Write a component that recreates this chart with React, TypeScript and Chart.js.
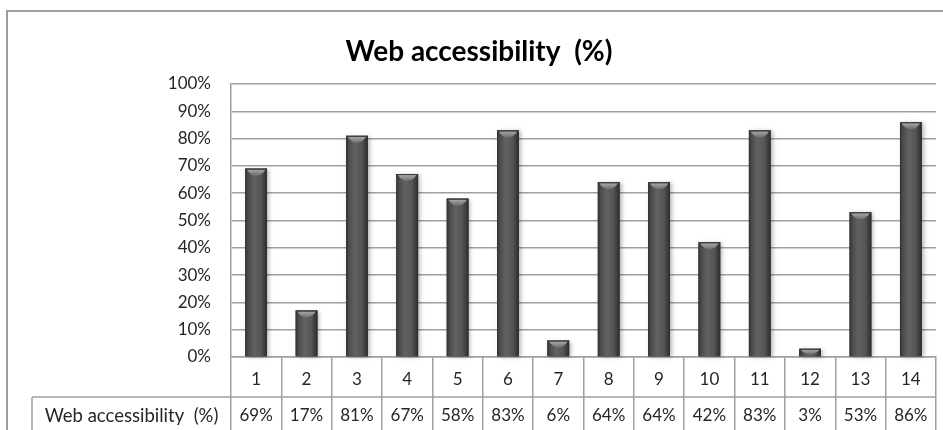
import React, { useEffect, useRef } from "react";
import { Chart, registerables } from "chart.js";

Chart.register(...registerables);

// Survey results per site
const categories = ["1", "2", "3", "4", "5", "6", "7", "8", "9", "10", "11", "12", "13", "14"];
const accessibility = [69, 17, 81, 67, 58, 83, 6, 64, 64, 42, 83, 3, 53, 86];
const seriesName = "Web accessibility  (%)";
const chartTitle = "Web accessibility  (%)";
const yMin = 0;
const yMax = 100;
const yStep = 10;

const FONT = "Lato, 'Open Sans', sans-serif";
const TEXT = "#262626";
const LINE = "#a0a0a0";
const ROW_H = 40;
const HEADER_W = 199;

const fmtPct = (v: number) => `${v}%`;

// Cylinder-like shading on each bar, with a lighter cap at the top
const barShading = {
  id: "barShading",
  afterDatasetsDraw(chart: any) {
    const ctx = chart.ctx;
    const meta = chart.getDatasetMeta(0);
    ctx.save();
    meta.data.forEach((el: any) => {
      const { x, y, base, width } = el.getProps(["x", "y", "base", "width"], true);
      const l = x - width / 2;
      const r = x + width / 2;
      const h = base - y;

      ctx.save();
      ctx.shadowColor = "rgba(0,0,0,0.28)";
      ctx.shadowBlur = 4;
      ctx.shadowOffsetX = 2;
      ctx.shadowOffsetY = 1;
      ctx.fillStyle = "#444";
      ctx.fillRect(l, y, width, h);
      ctx.restore();

      const g = ctx.createLinearGradient(l, 0, r, 0);
      g.addColorStop(0, "#2f2f2f");
      g.addColorStop(0.12, "#4a4a4a");
      g.addColorStop(0.4, "#626262");
      g.addColorStop(0.72, "#555555");
      g.addColorStop(1, "#2c2c2c");
      ctx.fillStyle = g;
      ctx.fillRect(l, y, width, h);

      const capH = Math.min(7, h * 0.75);
      const cg = ctx.createLinearGradient(0, y, 0, y + capH);
      cg.addColorStop(0, "#b0b0b0");
      cg.addColorStop(1, "#6e6e6e");
      ctx.fillStyle = cg;
      ctx.beginPath();
      ctx.moveTo(l + 1.5, y + 1);
      ctx.lineTo(r - 1.5, y + 1);
      ctx.quadraticCurveTo(r - width * 0.25, y + capH, x, y + capH);
      ctx.quadraticCurveTo(l + width * 0.25, y + capH, l + 1.5, y + 1);
      ctx.closePath();
      ctx.fill();

      ctx.strokeStyle = "#3a3a3a";
      ctx.lineWidth = 1;
      ctx.beginPath();
      ctx.moveTo(l, y + 0.5);
      ctx.lineTo(r, y + 0.5);
      ctx.stroke();
    });
    ctx.restore();
  },
};

// Chart frame and the data table under the category axis
const frameAndTable = {
  id: "frameAndTable",
  beforeDraw(chart: any) {
    const ctx = chart.ctx;
    ctx.save();
    ctx.fillStyle = "#ffffff";
    ctx.fillRect(0, 0, chart.width, chart.height);
    ctx.strokeStyle = "#9c9c9c";
    ctx.lineWidth = 2;
    ctx.beginPath();
    ctx.moveTo(7, chart.height);
    ctx.lineTo(7, 11);
    ctx.lineTo(chart.width, 11);
    ctx.stroke();
    ctx.restore();
  },
  afterDraw(chart: any) {
    const ctx = chart.ctx;
    const area = chart.chartArea;
    const xs = chart.scales.x;
    const row2Top = area.bottom + ROW_H;
    const headerLeft = area.left - HEADER_W;
    ctx.save();
    ctx.strokeStyle = LINE;
    ctx.lineWidth = 1.5;
    ctx.beginPath();
    ctx.moveTo(headerLeft, row2Top);
    ctx.lineTo(area.right, row2Top);
    ctx.moveTo(headerLeft, row2Top);
    ctx.lineTo(headerLeft, chart.height);
    ctx.stroke();

    ctx.fillStyle = TEXT;
    ctx.textBaseline = "middle";
    ctx.textAlign = "center";
    const cy = row2Top + 19;
    ctx.font = `18.5px ${FONT}`;
    ctx.fillText(seriesName, (headerLeft + area.left) / 2, cy);
    ctx.font = `17px ${FONT}`;
    accessibility.forEach((v, i) => {
      ctx.fillText(fmtPct(v), xs.getPixelForValue(i), cy);
    });
    ctx.restore();
  },
};

export default function App() {
  const ref = useRef<HTMLCanvasElement>(null);

  useEffect(() => {
    if (!ref.current) return;
    const chart = new Chart(ref.current, {
      type: "bar",
      data: {
        labels: categories,
        datasets: [
          {
            label: seriesName,
            data: accessibility,
            backgroundColor: "#4a4a4a",
            borderWidth: 0,
            barPercentage: 0.43,
            categoryPercentage: 1.0,
          },
        ],
      },
      options: {
        animation: false,
        responsive: false,
        devicePixelRatio: 1,
        layout: { padding: { left: 22, right: 7, top: 0, bottom: 0 } },
        plugins: {
          legend: { display: false },
          tooltip: { enabled: false },
          title: {
            display: true,
            text: chartTitle,
            color: "#000000",
            font: { family: FONT, size: 28, weight: "bold" },
            padding: { top: 35, bottom: 15.4 },
          },
        },
        scales: {
          x: {
            type: "category",
            offset: true,
            grid: {
              drawOnChartArea: false,
              drawTicks: true,
              tickLength: 80,
              offset: true,
              color: LINE,
              lineWidth: 1.5,
            },
            border: { display: true, color: LINE, width: 1.5 },
            ticks: {
              color: TEXT,
              font: { family: FONT, size: 17 },
              padding: -68,
              maxRotation: 0,
              autoSkip: false,
            },
            afterFit(scale: any) {
              scale.height = 73;
            },
          },
          y: {
            min: yMin,
            max: yMax,
            grid: { color: LINE, lineWidth: 1.5, drawTicks: false },
            border: { display: true, color: LINE, width: 1.5 },
            ticks: {
              stepSize: yStep,
              color: TEXT,
              font: { family: FONT, size: 17 },
              padding: 20,
              callback: (v: any) => fmtPct(Number(v)),
            },
            afterFit(scale: any) {
              scale.width = 209;
            },
          },
        },
      },
      plugins: [frameAndTable, barShading],
    });
    return () => chart.destroy();
  }, []);

  return (
    <div style={{ position: "absolute", left: 0, top: 0, width: 943, height: 430, background: "#fff" }}>
      <canvas ref={ref} width={943} height={430} style={{ display: "block" }} />
    </div>
  );
}
